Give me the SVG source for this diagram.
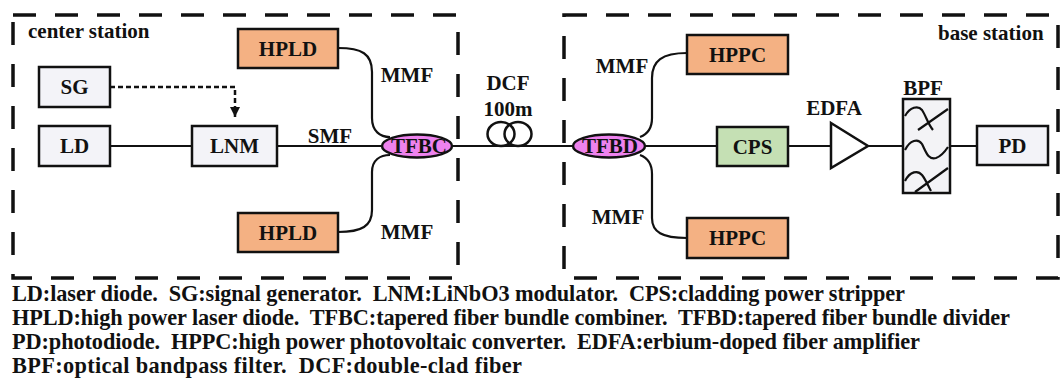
<svg xmlns="http://www.w3.org/2000/svg" width="1062" height="378" viewBox="0 0 1062 378">
<style>
text{font-family:"Liberation Serif","Times New Roman",serif;font-weight:bold;fill:#111}
.lbl{font-size:21px}
.c{text-anchor:middle}
.leg{font-size:22.3px;white-space:pre}
.box{stroke:#111;stroke-width:2.5}
.grey{fill:#f3f3f8}
.orange{fill:#f4b183}
.green{fill:#c5e0b4}
.ell{fill:#ee82ee;stroke:#111;stroke-width:2.5}
.wire{fill:none;stroke:#111;stroke-width:2.2}
.frame{fill:none;stroke:#111;stroke-width:3.5;stroke-dasharray:23 19}
</style>
<defs>
<marker id="arr" viewBox="0 0 10 10" refX="10" refY="5" markerWidth="10" markerHeight="10" markerUnits="userSpaceOnUse" orient="auto">
<path d="M0,0 L10,5 L0,10 z" fill="#111"/>
</marker>
</defs>
<rect width="1062" height="378" fill="#fff"/>
<g id="frames">
<rect class="frame" x="13" y="15" width="445" height="263"/>
<rect class="frame" x="564" y="15" width="494" height="263"/>
<text class="lbl" x="28" y="38">center station</text>
<text class="lbl" x="938" y="40">base station</text>
</g>
<g id="connectors">
<path class="wire" d="M110,146 L192,146 M277,146 L382,146 M452,146 L573,146 M645,146 L717,146 M788,146 L831,146 M868,146 L903,146 M950,146 L977,146"/>
<path d="M110,87 L235,87 L235,117" fill="none" stroke="#111" stroke-width="2.5" stroke-dasharray="5 3" marker-end="url(#arr)"/>
<path class="wire" d="M338,48 C362,48 372,54 372,72 L372,118 C372,131 380,137 390,137"/>
<path class="wire" d="M338,232 C362,232 372,226 372,210 L372,172 C372,160 380,155 390,155"/>
<path class="wire" d="M640,137 C648,134 652,128 652,118 L652,78 C652,61 662,53 687,53"/>
<path class="wire" d="M640,155 C648,158 652,164 652,174 L652,218 C652,232 662,238 687,238"/>
<text class="lbl c" x="330" y="143">SMF</text>
<text class="lbl c" x="407" y="82">MMF</text>
<text class="lbl c" x="407" y="239">MMF</text>
<text class="lbl c" x="622" y="73">MMF</text>
<text class="lbl c" x="618" y="224">MMF</text>
</g>
<g id="SG"><rect class="box grey" x="39" y="67" width="71" height="40"/><text class="lbl c" x="74.5" y="94">SG</text></g>
<g id="LD"><rect class="box grey" x="39" y="126" width="71" height="40"/><text class="lbl c" x="74.5" y="153">LD</text></g>
<g id="LNM"><rect class="box grey" x="192" y="126" width="85" height="40"/><text class="lbl c" x="234.5" y="153">LNM</text></g>
<g id="HPLD1"><rect class="box orange" x="238" y="29" width="100" height="39"/><text class="lbl c" x="288" y="55.5">HPLD</text></g>
<g id="HPLD2"><rect class="box orange" x="238" y="213" width="100" height="39"/><text class="lbl c" x="288" y="239.5">HPLD</text></g>
<g id="TFBC"><ellipse class="ell" cx="417" cy="146" rx="35" ry="11.5"/><text class="lbl c" x="419" y="153">TFBC</text></g>
<g id="DCF">
<ellipse cx="501" cy="134" rx="13.5" ry="12" fill="none" stroke="#111" stroke-width="2.5"/>
<ellipse cx="518" cy="134" rx="13.5" ry="12" fill="none" stroke="#111" stroke-width="2.5"/>
<text class="lbl c" x="508" y="90">DCF</text>
<text class="lbl c" x="508" y="116">100m</text>
</g>
<g id="TFBD"><ellipse class="ell" cx="609" cy="146" rx="36" ry="11.5"/><text class="lbl c" x="610" y="153">TFBD</text></g>
<g id="HPPC1"><rect class="box orange" x="687" y="35" width="101" height="39"/><text class="lbl c" x="737.5" y="61.5">HPPC</text></g>
<g id="HPPC2"><rect class="box orange" x="687" y="218" width="101" height="40"/><text class="lbl c" x="737.5" y="245">HPPC</text></g>
<g id="CPS"><rect class="box green" x="717" y="127" width="71" height="39"/><text class="lbl c" x="752.5" y="153.5">CPS</text></g>
<g id="EDFA"><path class="box" fill="#fff" stroke-linejoin="miter" d="M831,123 L868,146 L831,168 Z"/><text class="lbl c" x="834" y="115">EDFA</text></g>
<g id="BPF">
<rect class="box" fill="#f3f3f6" x="903" y="99" width="47" height="94"/>
<path class="wire" d="M905,116 C910,107 918,105 922,110 C926,116 928,124 933,130 M918,130 L948,109 M905,150 C910,140 918,138 922,144 C926,152 928,160 936,158 C942,156 946,150 948,147 M905,181 C910,171 918,170 922,175 C926,180 928,186 931,191 M915,192 L948,168"/>
<text class="lbl c" x="923" y="95">BPF</text>
</g>
<g id="PD"><rect class="box grey" x="977" y="126" width="71" height="39"/><text class="lbl c" x="1012.5" y="152.5">PD</text></g>
<g id="legend">
<text class="leg" x="12" y="301" textLength="893" lengthAdjust="spacing">LD:laser diode.  SG:signal generator.  LNM:LiNbO3 modulator.  CPS:cladding power stripper</text>
<text class="leg" x="12" y="325" textLength="998" lengthAdjust="spacing">HPLD:high power laser diode.  TFBC:tapered fiber bundle combiner.  TFBD:tapered fiber bundle divider</text>
<text class="leg" x="12" y="349" textLength="908" lengthAdjust="spacing">PD:photodiode.  HPPC:high power photovoltaic converter.  EDFA:erbium-doped fiber amplifier</text>
<text class="leg" x="12" y="373" textLength="510" lengthAdjust="spacing">BPF:optical bandpass filter.  DCF:double-clad fiber</text>
</g>
</svg>
